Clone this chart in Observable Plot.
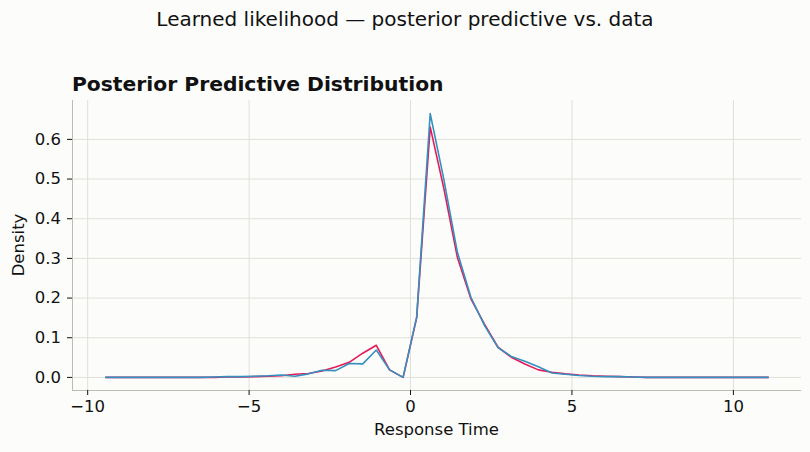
<!DOCTYPE html>
<html><head><meta charset="utf-8">
<script src="https://cdn.jsdelivr.net/npm/d3@7"></script>
<script src="https://cdn.jsdelivr.net/npm/@observablehq/plot@0.6"></script>
<style>
html,body{margin:0;padding:0;background:#fcfcfa;}
#wrap{position:relative;width:810px;height:452px;font-family:"DejaVu Sans",sans-serif;color:#111;overflow:hidden;}
.t{position:absolute;white-space:nowrap;line-height:1;}
</style></head><body>
<div id="wrap">
 <div class="t" style="left:0;width:810px;text-align:center;top:9px;font-size:20px;">Learned likelihood — posterior predictive vs. data</div>
 <div class="t" style="left:72px;top:74px;font-size:20.3px;font-weight:bold;">Posterior Predictive Distribution</div>
 <div class="t" style="left:72px;width:729px;text-align:center;top:422px;font-size:16.5px;">Response Time</div>
 <div class="t" style="left:19px;top:245px;font-size:16.5px;transform:translate(-50%,-50%) rotate(-90deg);">Density</div>
 <div id="chart" style="position:absolute;left:0;top:60px;"></div>
</div>
<script>
const responseTime = [-9.44,-9.02,-8.60,-8.18,-7.77,-7.35,-6.93,-6.51,-6.09,-5.67,
  -5.25,-4.83,-4.41,-4.00,-3.58,-3.16,-2.74,-2.32,-1.90,-1.48,
  -1.06,-0.65,-0.23,0.19,0.61,1.03,1.45,1.87,2.29,2.71,
  3.12,3.54,3.96,4.38,4.80,5.22,5.64,6.06,6.47,6.89,
  7.31,7.73,8.15,8.57,8.99,9.41,9.83,10.24,10.66,11.08];
const predicted = [0,0,0,0,0,0,0,0,0,0.001,
  0.001,0.002,0.003,0.004,0.008,0.010,0.016,0.026,0.038,0.061,
  0.081,0.019,0,0.150,0.631,0.477,0.303,0.198,0.134,0.076,
  0.051,0.034,0.019,0.013,0.009,0.006,0.004,0.003,0.002,0.001,
  0,0,0,0,0,0,0,0,0,0];
const observed = [0,0,0,0,0,0,0,0,0.001,0.002,
  0.002,0.003,0.004,0.006,0.003,0.009,0.018,0.017,0.035,0.034,
  0.069,0.019,0,0.152,0.665,0.500,0.316,0.202,0.131,0.075,
  0.053,0.041,0.027,0.011,0.008,0.005,0.003,0.002,0.002,0.001,
  0,0,0,0,0,0,0,0,0,0];
const xTicks = [-10,-5,0,5,10];
const yTicks = [0,0.1,0.2,0.3,0.4,0.5,0.6];
const xDomain = [-10.47, 12.11];
const yDomain = [-0.033, 0.698];

const data = responseTime.map((x,i)=>({x, pred: predicted[i], obs: observed[i]}));
const chart = Plot.plot({
  width: 810, height: 392,
  marginTop: 40, marginBottom: 62, marginLeft: 72, marginRight: 9,
  style: {background: "transparent", fontFamily: "DejaVu Sans", fontSize: "16.5px", color: "#111", overflow: "visible"},
  x: {domain: xDomain},
  y: {domain: yDomain},
  marks: [
    Plot.ruleX(xTicks, {stroke: "#e0e0da", strokeWidth: 1}),
    Plot.ruleY(yTicks, {stroke: "#e0e0da", strokeWidth: 1}),
    Plot.ruleX([xDomain[0]], {stroke: "#bcbcb4", strokeWidth: 1}),
    Plot.ruleY([yDomain[0]], {stroke: "#bcbcb4", strokeWidth: 1}),
    Plot.axisX({ticks: xTicks, tickSize: 5, tickPadding: 4.5, label: null, fontSize: 16.5}),
    Plot.axisY({ticks: yTicks, tickSize: 5, tickPadding: 6.5, tickFormat: ".1f", label: null, fontSize: 16.5}),
    Plot.line(data, {x: "x", y: "pred", stroke: "#e6195a", strokeWidth: 1.6}),
    Plot.line(data, {x: "x", y: "obs", stroke: "#3590c0", strokeWidth: 1.6})
  ]
});
document.getElementById("chart").appendChild(chart);
</script>
</body></html>
